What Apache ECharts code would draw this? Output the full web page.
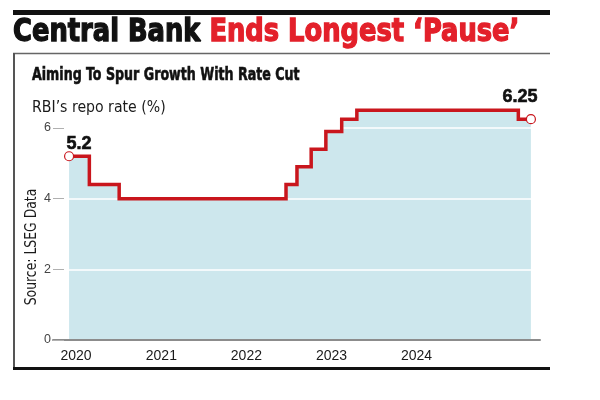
<!DOCTYPE html>
<html><head><meta charset="utf-8">
<script src="https://cdn.jsdelivr.net/npm/echarts@6/dist/echarts.min.js"></script>
<style>html,body{margin:0;padding:0;background:#fff}#c{width:600px;height:400px}</style>
</head><body><div id="c"></div>
<script>
// ---- texts ----
const titleBlack = 'Central Bank';
const titleRed = 'Ends Longest \u2018Pause\u2019';
const subtitle = 'Aiming To Spur Growth With Rate Cut';
const unitLabel = 'RBI\u2019s repo rate (%)';
const sourceLabel = 'Source: LSEG Data';
// ---- data (dates of each rate change) ----
const dates = ['2019-12-02','2020-02-27','2020-07-04','2022-06-20','2022-08-06','2022-10-06','2022-12-08','2023-02-14','2023-04-20','2025-03-13','2025-05-06'];
const rates = [5.2, 4.4, 4.0, 4.4, 4.9, 5.4, 5.9, 6.25, 6.5, 6.25, 6.25];
const yearLabels = ['2020','2021','2022','2023','2024'];
const yTicks = [0, 2, 4, 6];
const endLabels = ['5.2', '6.25'];

const RED = '#c9161d';
const COND = '"DejaVu Sans Condensed", "Liberation Sans", sans-serif';
const SANS = '"Liberation Sans", Arial, sans-serif';

const chart = echarts.init(document.getElementById('c'), null, {renderer: 'canvas'});
const last = dates.length - 1;
const lineData = dates.map((d, i) => {
  const item = {value: [d, rates[i]]};
  if (i === 0 || i === last) {
    item.symbol = 'circle';
    item.label = {
      show: true, position: 'inside',
      formatter: i === 0 ? endLabels[0] : endLabels[1],
      offset: i === 0 ? [10, -12] : [-11, -22],
      color: '#111', fontFamily: SANS, fontWeight: 'bold', fontSize: 18,
      textBorderColor: '#111', textBorderWidth: 0.6
    };
  } else {
    item.symbol = 'none';
  }
  return item;
});

const option = {
  animation: false,
  backgroundColor: '#fff',
  grid: {left: 53, right: 60, top: 128, bottom: 60, containLabel: false},
  xAxis: {
    type: 'time',
    min: '2019-09-24', max: '2025-06-14',
    z: 4,
    axisLine: {show: true, lineStyle: {color: '#8c8c8c', width: 2}},
    axisTick: {show: false},
    splitLine: {show: false},
    axisLabel: {
      margin: 9, color: '#1a1a1a', fontFamily: SANS, fontSize: 14,
      showMinLabel: false, showMaxLabel: false,
      formatter: (v) => {
        const dt = new Date(v);
        const y = String(dt.getFullYear());
        return (dt.getMonth() === 0 && dt.getDate() === 1 && yearLabels.includes(y)) ? y : '';
      }
    }
  },
  yAxis: [{
    type: 'value', min: yTicks[0], max: yTicks[yTicks.length - 1], interval: 2,
    z: 5,
    axisLine: {show: false},
    axisTick: {show: true, inside: true, length: 11, lineStyle: {color: '#b0b0b0', width: 1}},
    splitLine: {show: false},
    axisLabel: {margin: 2, color: '#444', fontFamily: SANS, fontSize: 12.5}
  }, {
    type: 'value', min: yTicks[0], max: yTicks[yTicks.length - 1], interval: 2,
    position: 'left', z: 2,
    axisLine: {show: false}, axisTick: {show: false}, axisLabel: {show: false},
    splitLine: {show: true, showMinLine: false, lineStyle: {color: '#ffffff', width: 1.5}}
  }],
  series: [{
    type: 'line', step: 'end', z: 1, clip: false, silent: true,
    symbol: 'none',
    data: dates.map((d, i) => [d, rates[i]]),
    lineStyle: {width: 0, opacity: 0},
    areaStyle: {color: '#cde7ed', opacity: 1}
  }, {
    type: 'line', step: 'end', z: 3, clip: false, silent: true,
    symbol: 'circle', symbolSize: 9,
    showAllSymbol: true,
    data: lineData,
    lineStyle: {color: RED, width: 3.5, join: 'miter'},
    itemStyle: {color: '#ffffff', borderColor: RED, borderWidth: 1.2}
  }],
  graphic: [
    {type: 'rect', shape: {x: 13, y: 10, width: 537, height: 5}, style: {fill: '#111'}},
    {type: 'line', shape: {x1: 13, y1: 53.5, x2: 550, y2: 53.5}, style: {stroke: '#666', lineWidth: 1.5}},
    {type: 'line', shape: {x1: 14, y1: 53, x2: 14, y2: 369}, style: {stroke: '#555', lineWidth: 2}},
    {type: 'line', shape: {x1: 13, y1: 368.5, x2: 550, y2: 368.5}, style: {stroke: '#111', lineWidth: 3}},
    {type: 'text', x: 13, y: 33, scaleX: 0.895, style: {
      text: '{a|' + titleBlack + '} {b|' + titleRed + '}',
      verticalAlign: 'middle',
      rich: {
        a: {fill: '#111', font: 'bold 32px ' + COND, stroke: '#111', lineWidth: 1.3},
        b: {fill: '#e3202a', font: 'bold 32px ' + COND, stroke: '#e3202a', lineWidth: 1.3}
      },
      font: 'bold 32px ' + COND
    }},
    {type: 'text', x: 32, y: 75.5, scaleX: 0.76, style: {
      text: subtitle, fill: '#111', font: 'bold 18.5px ' + COND, verticalAlign: 'middle',
      stroke: '#111', lineWidth: 0.6
    }},
    {type: 'text', x: 32, y: 107.5, scaleX: 0.95, style: {
      text: unitLabel, fill: '#1a1a1a', font: '16.5px ' + COND, verticalAlign: 'middle'
    }},
    {type: 'text', x: 31.5, y: 247, rotation: Math.PI / 2, scaleX: 0.89, style: {
      text: sourceLabel, fill: '#1a1a1a', font: '15.5px ' + COND, align: 'center', verticalAlign: 'middle'
    }}
  ]
};
chart.setOption(option);
</script>
</body></html>
